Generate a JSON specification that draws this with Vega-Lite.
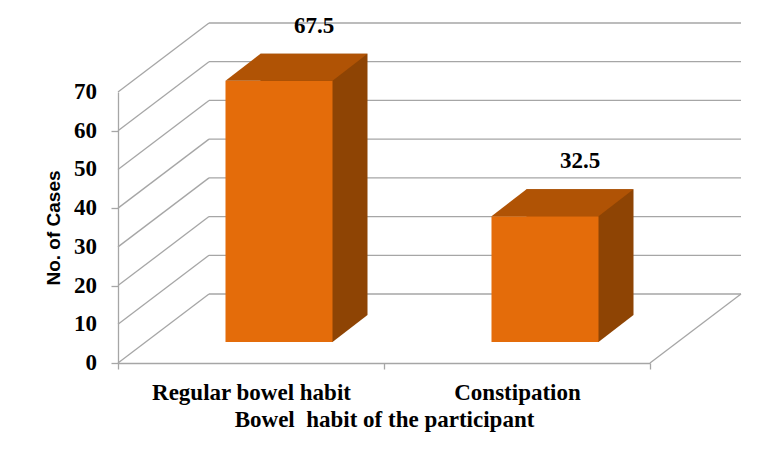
{
  "$schema": "https://vega.github.io/schema/vega-lite/v6.json",
  "width": 532,
  "height": 271,
  "autosize": "none",
  "padding": {"left": 209, "top": 23, "right": 41, "bottom": 165},
  "background": "white",
  "config": {
    "view": {"stroke": null},
    "axis": {"labelColor": "black", "titleColor": "black", "domainColor": "#a6a6a6", "tickColor": "#a6a6a6", "domainWidth": 1.3, "tickWidth": 1.3}
  },
  "datasets": {
    "cases": [
      {"habit": "Regular bowel habit", "cases": 67.5},
      {"habit": "Constipation", "cases": 32.5}
    ],
    "levels": [
      {"level": 0}, {"level": 10}, {"level": 20}, {"level": 30},
      {"level": 40}, {"level": 50}, {"level": 60}, {"level": 70}
    ]
  },
  "data": {"name": "cases"},
  "layer": [
    {
      "data": {"name": "levels"},
      "mark": {"type": "rule", "color": "#a6a6a6", "strokeWidth": 1.3},
      "encoding": {
        "y": {
          "field": "level", "type": "quantitative",
          "scale": {"domain": [0, 70], "nice": false},
          "axis": {
            "orient": "left", "translate": 69.5, "offset": 160,
            "values": [0, 10, 20, 30, 40, 50, 60, 70], "grid": false, "tickSize": 7,
            "labels": false,
            "title": "No. of Cases",
            "titleFont": "Liberation Sans", "titleFontWeight": "bold", "titleFontSize": 19, "titlePadding": 47
          }
        }
      }
    },
    {
      "data": {"name": "levels"},
      "mark": {"type": "rule", "color": "#a6a6a6", "strokeWidth": 1.3, "xOffset": -91, "yOffset": 69},
      "encoding": {
        "x": {"datum": "Regular bowel habit", "bandPosition": 0},
        "x2": {"datum": "Regular bowel habit", "bandPosition": 0},
        "y": {"field": "level", "type": "quantitative"},
        "y2": {"field": "level"}
      }
    },
    {
      "data": {"name": "levels"},
      "mark": {"type": "text", "font": "Liberation Serif", "fontWeight": "bold", "fontSize": 23, "color": "black", "align": "right", "baseline": "middle", "xOffset": -112, "yOffset": 69},
      "encoding": {
        "x": {"datum": "Regular bowel habit", "bandPosition": 0},
        "y": {"field": "level", "type": "quantitative"},
        "text": {"field": "level", "type": "quantitative"}
      }
    },
    {
      "data": {"name": "levels"},
      "transform": [{"filter": "datum.level == 0"}],
      "mark": {"type": "rule", "color": "#a6a6a6", "strokeWidth": 1.3, "xOffset": -91, "yOffset": 69},
      "encoding": {
        "x": {"datum": "Constipation", "bandPosition": 1},
        "x2": {"datum": "Constipation", "bandPosition": 1},
        "y": {"field": "level", "type": "quantitative"},
        "y2": {"field": "level"}
      }
    },
    {
      "mark": {"type": "bar", "color": "#8e4404", "width": {"band": 0.4023}, "xOffset": -28, "yOffset": 21, "y2Offset": 21},
      "encoding": {
        "x": {"field": "habit", "type": "nominal", "sort": null},
        "y": {"field": "cases", "type": "quantitative"}
      }
    },
    {
      "mark": {"type": "point", "shape": "M-12,21 L-12,48 L-9.5,48 L25.5,21 Z", "size": 4, "filled": true, "opacity": 1, "color": "#8e4404", "strokeWidth": 0},
      "encoding": {
        "x": {"field": "habit", "type": "nominal", "sort": null},
        "y": {"datum": 0, "type": "quantitative"}
      }
    },
    {
      "mark": {"type": "bar", "color": "#e46c0a", "width": {"band": 0.4023}, "xOffset": -63, "yOffset": 48, "y2Offset": 48},
      "encoding": {
        "x": {
          "field": "habit", "type": "nominal", "sort": null,
          "scale": {"paddingInner": 0, "paddingOuter": 0},
          "axis": {
            "orient": "bottom", "translate": -90.5, "offset": 160,
            "labelAngle": 0, "labelAlign": "center", "labelLimit": 400, "labelOverlap": false,
            "tickBand": "extent", "tickSize": 6,
            "labelFont": "Liberation Serif", "labelFontWeight": "bold", "labelFontSize": 23, "labelPadding": 23,
            "title": "Bowel\u00a0 habit of the participant",
            "titleFont": "Liberation Serif", "titleFontWeight": "bold", "titleFontSize": 23, "titlePadding": 4
          }
        },
        "y": {"field": "cases", "type": "quantitative"}
      }
    },
    {
      "mark": {"type": "point", "shape": "M-116.5,48 L-9.5,48 L25.5,21 L-81.5,21 Z", "size": 4, "filled": true, "opacity": 1, "color": "#b05305", "strokeWidth": 0},
      "encoding": {
        "x": {"field": "habit", "type": "nominal", "sort": null},
        "y": {"field": "cases", "type": "quantitative"}
      }
    },
    {
      "mark": {"type": "text", "font": "Liberation Serif", "fontWeight": "bold", "fontSize": 23, "color": "black", "baseline": "middle", "xOffset": -28, "yOffset": -7},
      "encoding": {
        "x": {"field": "habit", "type": "nominal", "sort": null},
        "y": {"field": "cases", "type": "quantitative"},
        "text": {"field": "cases", "type": "quantitative", "format": ".1f"}
      }
    }
  ]
}
